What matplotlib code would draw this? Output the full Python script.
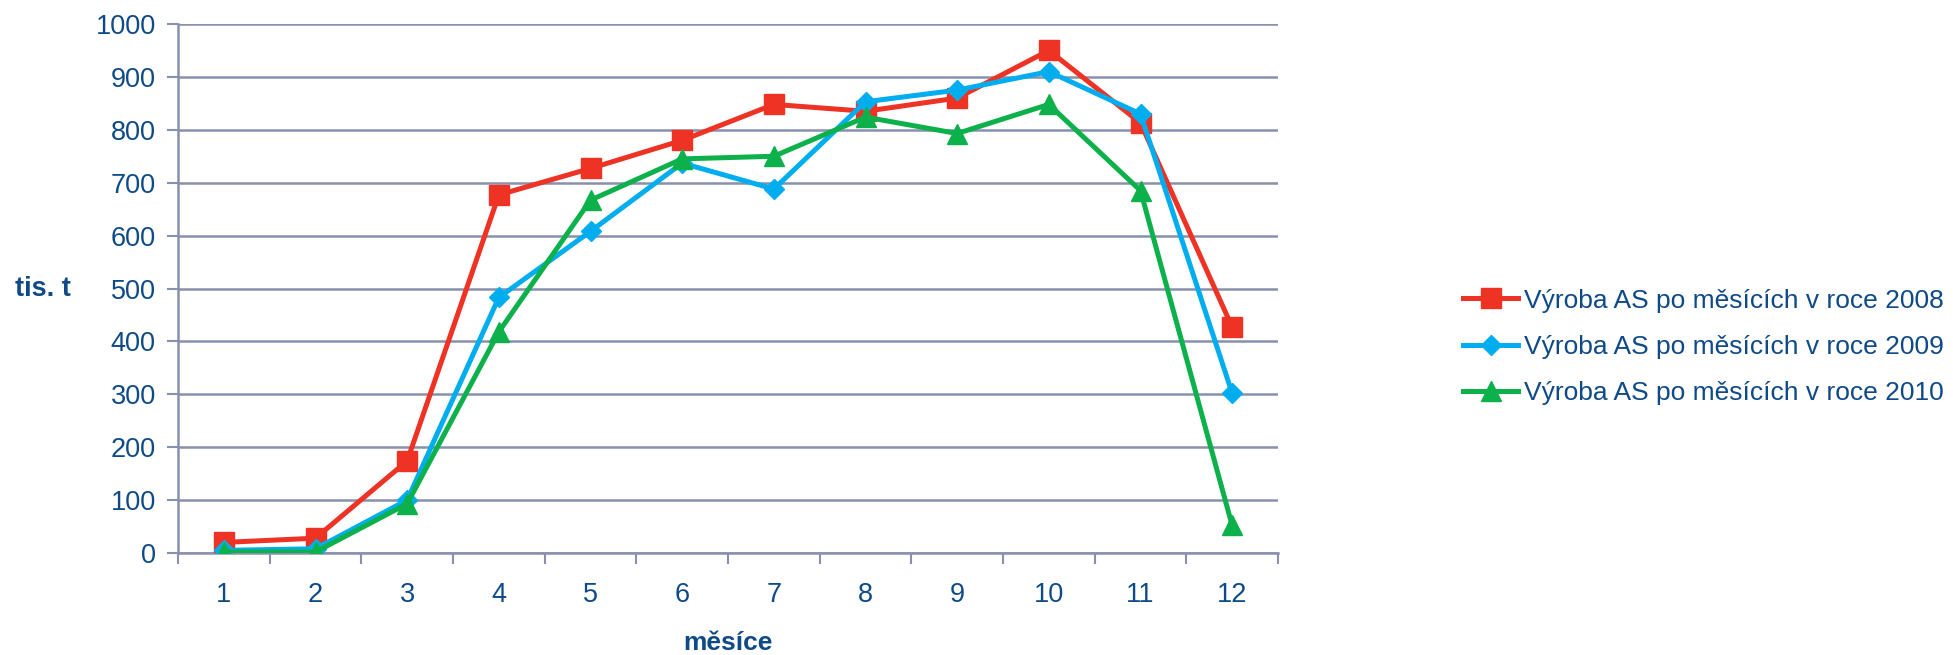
import matplotlib
matplotlib.use("Agg")
import matplotlib.pyplot as plt
import numpy as np

months = [1, 2, 3, 4, 5, 6, 7, 8, 9, 10, 11, 12]
month_labels = ["1", "2", "3", "4", "5", "6", "7", "8", "9", "10", "11", "12"]
v2008 = [20, 28, 174, 677, 727, 780, 848, 835, 860, 950, 813, 427]
v2009 = [5, 8, 100, 483, 608, 737, 688, 853, 875, 910, 830, 302]
v2010 = [2, 2, 93, 418, 667, 745, 750, 824, 793, 848, 685, 52]
series_labels = ["Výroba AS po měsících v roce 2008",
                 "Výroba AS po měsících v roce 2009",
                 "Výroba AS po měsících v roce 2010"]
yticks = [0, 100, 200, 300, 400, 500, 600, 700, 800, 900, 1000]

plt.rcParams['font.family'] = ['Liberation Sans', 'DejaVu Sans']
txt_color = '#0E4A88'
grid_color = '#8890AC'

W, H = 1953, 655
fig = plt.figure(figsize=(W / 100, H / 100), dpi=100)
ax = fig.add_axes([178 / W, (H - 553) / H, 1100 / W, 529 / H])

ax.plot(months, v2008, color='#EE3224', lw=3.6, marker='s', ms=14, label=series_labels[0], zorder=3)
ax.plot(months, v2009, color='#00AEEF', lw=3.6, marker='D', ms=10.5, label=series_labels[1], zorder=4)
ax.plot(months, v2010, color='#0DB14B', lw=3.6, marker='^', ms=15, label=series_labels[2], zorder=5)

ax.set_xlim(0.5, 12.5)
ax.set_ylim(0, 1000)
ax.set_yticks(yticks)
ax.set_yticklabels([str(v) for v in yticks])
ax.set_xticks(np.arange(0.5, 13, 1.0))
ax.set_xticklabels([])
ax.set_xticks(months, minor=True)
ax.set_xticklabels(month_labels, minor=True)
ax.tick_params(axis='x', which='major', length=8, width=1.5, color=grid_color)
ax.tick_params(axis='x', which='minor', length=0, pad=21, labelsize=19.5, labelcolor=txt_color)
ax.tick_params(axis='y', length=8, width=1.5, color=grid_color, labelsize=19.5, labelcolor=txt_color, pad=8)

ax.grid(axis='y', color=grid_color, lw=1.8)
ax.set_axisbelow(True)
for s in ['top', 'right']:
    ax.spines[s].set_visible(False)
for s in ['left', 'bottom']:
    ax.spines[s].set_color(grid_color)
    ax.spines[s].set_linewidth(1.8)

fig.text((728) / W, (H - 643) / H, "měsíce", ha='center', va='center',
         fontsize=19, fontweight='bold', color=txt_color)
fig.text(15 / W, (H - 289) / H, "tis. t", ha='left', va='center',
         fontsize=19.5, fontweight='bold', color=txt_color)

leg = fig.legend(loc='center left', bbox_to_anchor=(1463 / W, (H - 347) / H),
                 frameon=False, fontsize=19, labelcolor=txt_color,
                 handlelength=2.1, handletextpad=0.2, labelspacing=0.85, borderpad=0,
                 borderaxespad=0)

fig.savefig("out.png", dpi=100)
